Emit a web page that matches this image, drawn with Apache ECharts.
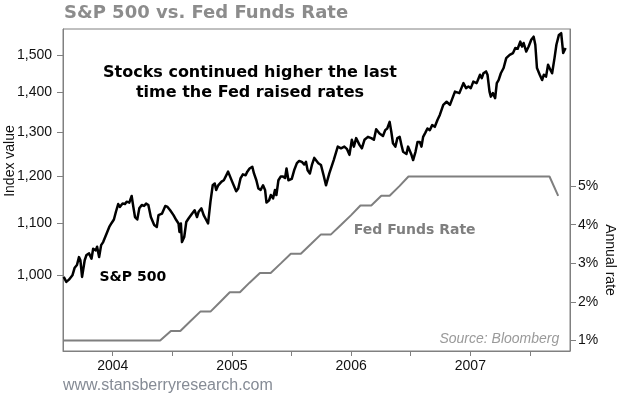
<!DOCTYPE html>
<html><head><meta charset="utf-8">
<script src="https://cdn.jsdelivr.net/npm/echarts@6/dist/echarts.min.js"></script>
<style>html,body{margin:0;padding:0;background:#fff}#c{width:620px;height:395px}</style>
</head><body><div id="c"></div>
<script>
// S&P 500 index, dates as decimal years
const spxDates = [
2003.589,2003.611,2003.633,2003.662,2003.681,2003.700,2003.717,2003.729,2003.743,2003.765,
2003.780,2003.802,2003.822,2003.836,2003.858,2003.869,2003.886,2003.903,2003.920,2003.949,
2003.971,2003.991,2004.010,2004.027,2004.046,2004.060,2004.083,2004.103,2004.117,2004.139,
2004.159,2004.173,2004.187,2004.206,2004.223,2004.244,2004.263,2004.280,2004.299,2004.320,
2004.348,2004.370,2004.384,2004.413,2004.441,2004.460,2004.482,2004.510,2004.533,2004.552,
2004.560,2004.572,2004.581,2004.600,2004.617,2004.636,2004.665,2004.687,2004.707,2004.721,
2004.744,2004.763,2004.778,2004.800,2004.820,2004.839,2004.856,2004.868,2004.885,2004.913,
2004.932,2004.946,2004.968,2004.982,2005.002,2005.016,2005.036,2005.053,2005.072,2005.092,
2005.115,2005.129,2005.148,2005.171,2005.185,2005.205,2005.222,2005.241,2005.261,2005.278,
2005.290,2005.312,2005.326,2005.345,2005.361,2005.373,2005.390,2005.409,2005.429,2005.446,
2005.458,2005.474,2005.502,2005.522,2005.545,2005.564,2005.587,2005.606,2005.621,2005.635,
2005.654,2005.671,2005.691,2005.725,2005.747,2005.769,2005.789,2005.817,2005.854,2005.888,
2005.915,2005.943,2005.966,2005.986,2006.006,2006.023,2006.042,2006.070,2006.090,2006.112,
2006.141,2006.169,2006.191,2006.210,2006.238,2006.267,2006.286,2006.303,2006.323,2006.337,
2006.351,2006.371,2006.388,2006.407,2006.422,2006.436,2006.449,2006.464,2006.478,2006.492,
2006.506,2006.520,2006.540,2006.557,2006.576,2006.590,2006.604,2006.623,2006.640,2006.660,
2006.680,2006.702,2006.725,2006.744,2006.773,2006.801,2006.829,2006.871,2006.908,2006.942,
2006.964,2006.984,2007.004,2007.025,2007.053,2007.081,2007.096,2007.110,2007.132,2007.144,
2007.161,2007.172,2007.189,2007.208,2007.222,2007.237,2007.256,2007.279,2007.301,2007.330,
2007.358,2007.377,2007.397,2007.419,2007.434,2007.447,2007.469,2007.489,2007.511,2007.531,
2007.545,2007.559,2007.582,2007.602,2007.616,2007.635,2007.652,2007.672,2007.686,2007.706,
2007.722,2007.743,2007.762,2007.779,2007.799
];
const spxValues = [
997,988,992,1000,1014,1019,1034,1028,997,1028,
1038,1041,1031,1050,1047,1054,1034,1057,1063,1080,
1093,1101,1108,1124,1140,1134,1141,1140,1145,1143,
1157,1134,1113,1108,1131,1138,1136,1141,1138,1113,
1097,1093,1117,1120,1136,1134,1127,1117,1107,1100,
1083,1100,1063,1073,1103,1110,1120,1127,1113,1124,
1131,1117,1110,1100,1145,1180,1184,1170,1180,1188,
1191,1188,1210,1213,1188,1184,1167,1173,1195,1204,
1202,1210,1217,1221,1206,1191,1173,1170,1180,1170,
1143,1148,1159,1152,1170,1159,1191,1199,1199,1196,
1217,1191,1194,1213,1229,1234,1232,1226,1232,1213,
1206,1225,1241,1229,1225,1202,1180,1206,1236,1267,
1263,1267,1261,1248,1283,1267,1287,1271,1263,1283,
1290,1287,1283,1308,1298,1292,1306,1310,1326,1302,
1275,1267,1287,1290,1271,1255,1259,1250,1267,1271,
1248,1236,1255,1278,1278,1267,1290,1300,1310,1306,
1318,1314,1331,1343,1368,1376,1368,1402,1398,1424,
1411,1415,1411,1428,1424,1446,1437,1450,1455,1446,
1402,1389,1398,1385,1424,1432,1450,1464,1491,1500,
1505,1519,1517,1537,1523,1533,1509,1523,1542,1551,
1528,1464,1446,1432,1446,1441,1473,1459,1450,1491,
1528,1556,1561,1505,1519
];
// Fed funds target rate (%), monthly points
const fedDates = [2003.583,2004.398,2004.488,2004.567,2004.651,2004.735,2004.820,2004.901,2004.982,2005.067,
  2005.148,2005.235,2005.325,2005.410,2005.494,2005.578,2005.663,2005.747,2005.831,2005.916,
  2006.000,2006.078,2006.169,2006.253,2006.323,2006.405,2006.481,2007.664,2007.737];
const fedRates = [1.00,1.00,1.25,1.25,1.50,1.75,1.75,2.00,2.25,2.25,
  2.50,2.75,2.75,3.00,3.25,3.25,3.50,3.75,3.75,4.00,
  4.25,4.50,4.50,4.75,4.75,5.00,5.25,5.25,4.75];
const indexTicks = [1000,1100,1200,1300,1400,1500];
const rateTicks = [1,2,3,4,5];
const yearLabels = [2004,2005,2006,2007];
const yearTicks = [2004,2004.5,2005,2005.5,2006,2006.5,2007,2007.5];

const AX = '#808080';
const labelFont = {color:'#111', fontFamily:'"Liberation Sans", Arial, sans-serif', fontSize:14};
const chart = echarts.init(document.getElementById('c'), null, {renderer:'canvas'});
const txt = (x,y,text,font,fill,align,extra) => Object.assign({
  type:'text', x:x, y:y, silent:true,
  style:{text:text, font:font, fill:fill, align:align||'left', verticalAlign:'middle',
         textAlign:align||'left', textVerticalAlign:'middle'}
}, extra||{});
chart.setOption({
  animation:false,
  backgroundColor:'#fff',
  grid:{left:63, right:50, top:29, bottom:44, show:true, borderColor:AX, borderWidth:1, backgroundColor:'transparent'},
  xAxis:{type:'value', min:2003.583, max:2007.836,
    axisLine:{show:true, lineStyle:{color:AX}},
    axisTick:{show:true, length:5, lineStyle:{color:AX}, customValues:yearTicks},
    axisLabel:Object.assign({margin:8, customValues:yearLabels, formatter:v=>String(Math.round(v))}, labelFont),
    splitLine:{show:false}},
  yAxis:[
    {type:'log', logBase:10, min:870, max:1573, position:'left',
     axisLine:{show:true, lineStyle:{color:AX}},
     axisTick:{show:true, length:6, lineStyle:{color:AX}, customValues:indexTicks},
     axisLabel:Object.assign({margin:11, customValues:indexTicks, formatter:v=>Math.round(v).toLocaleString('en-US')}, labelFont),
     splitLine:{show:false}},
    {type:'value', min:0.73, max:9.07, position:'right',
     axisLine:{show:true, lineStyle:{color:AX}},
     axisTick:{show:true, length:6, lineStyle:{color:AX}, customValues:rateTicks},
     axisLabel:Object.assign({margin:8, customValues:rateTicks, formatter:v=>Math.round(v)+'%'}, labelFont),
     splitLine:{show:false}}
  ],
  series:[
    {type:'line', yAxisIndex:1, showSymbol:false, symbol:'none',
     data:fedDates.map((d,i)=>[d,fedRates[i]]),
     lineStyle:{color:'#7f7f7f', width:2}, z:2},
    {type:'line', yAxisIndex:0, showSymbol:false, symbol:'none',
     data:spxDates.map((d,i)=>[d,spxValues[i]]),
     lineStyle:{color:'#000', width:2.5, join:'round'}, z:3}
  ],
  graphic:[
    txt(64,13,'S&P 500 vs. Fed Funds Rate','bold 18px "DejaVu Sans", Verdana, sans-serif','#8c8c8c','left'),
    txt(250,82.5,'Stocks continued higher the last\ntime the Fed raised rates','bold 16px "DejaVu Sans", Verdana, sans-serif','#000','center',{style:{text:'Stocks continued higher the last\ntime the Fed raised rates', font:'bold 16px "DejaVu Sans", Verdana, sans-serif', fill:'#000', align:'center', verticalAlign:'middle', textAlign:'center', textVerticalAlign:'middle', lineHeight:20}}),
    txt(132.8,277.3,'S&P 500','bold 14px "DejaVu Sans", Verdana, sans-serif','#000','center'),
    txt(414.7,230,'Fed Funds Rate','bold 14px "DejaVu Sans", Verdana, sans-serif','#7f7f7f','center'),
    txt(559.3,339,'Source: Bloomberg','italic 14px "Liberation Sans", Arial, sans-serif','#9a9a9a','right'),
    txt(63,385.7,'www.stansberryresearch.com','16px "Liberation Sans", Arial, sans-serif','#858b95','left'),
    txt(10,161,'Index value','14px "Liberation Sans", Arial, sans-serif','#111','center',{rotation:Math.PI/2}),
    txt(610,260,'Annual rate','14px "Liberation Sans", Arial, sans-serif','#111','center',{rotation:-Math.PI/2})
  ]
});
</script></body></html>
